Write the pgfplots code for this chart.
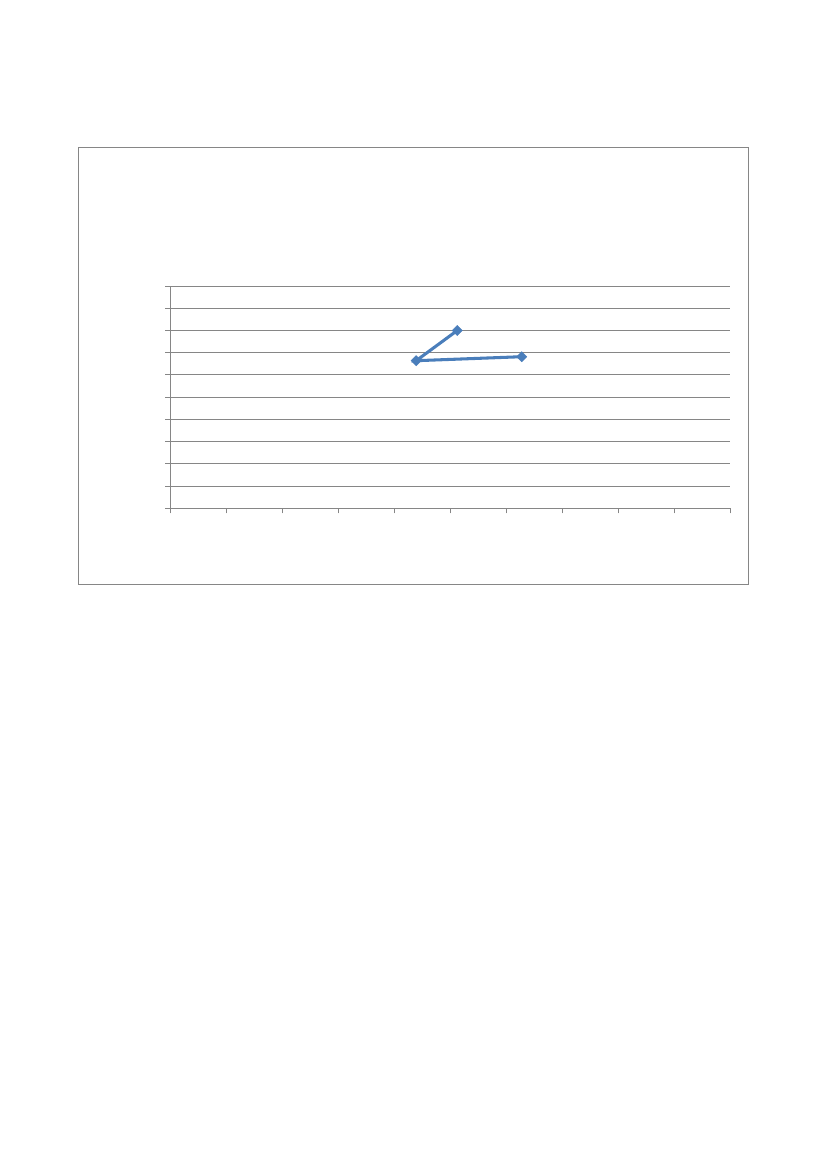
\documentclass[border=0pt]{standalone}
\usepackage{pgfplots}
\pgfplotsset{compat=1.18}
\definecolor{linegray}{HTML}{868686}
\definecolor{excelblue}{HTML}{4A7EBB}
\begin{document}
\begin{tikzpicture}
% page (A4 at 827x1169 px, 1 px = 0.7198 pt)
\fill[white] (0pt,0pt) rectangle (595.3pt,841.45pt);
% chart area frame
\draw[linegray, line width=0.6pt] (56.14pt,421.08pt) rectangle (538.41pt,735.64pt);
\begin{axis}[
    at={(122.58pt,475.57pt)}, anchor=south west,
    scale only axis,
    width=403.1pt, height=160.0pt,
    xmin=0, xmax=10, ymin=0, ymax=10,
    axis x line=bottom, axis y line=left,
    axis line style={linegray, line width=0.65pt, -},
    xtick={0,...,10}, ytick={0,...,10},
    xticklabels={}, yticklabels={},
    tick align=outside, major tick length=3.6pt,
    tick style={linegray, line width=0.65pt},
    ymajorgrids,
    grid style={linegray, line width=0.65pt},
    clip=false,
]
\addplot[color=excelblue, line width=2.2pt, mark=square*,
    mark size=2.6pt, mark options={fill=excelblue, solid, rotate=45, line width=0.3pt}]
    coordinates {
    (5.125,8.0)
    (4.39,6.64)
    (6.275,6.82)
};
\end{axis}
\end{tikzpicture}
\end{document}
